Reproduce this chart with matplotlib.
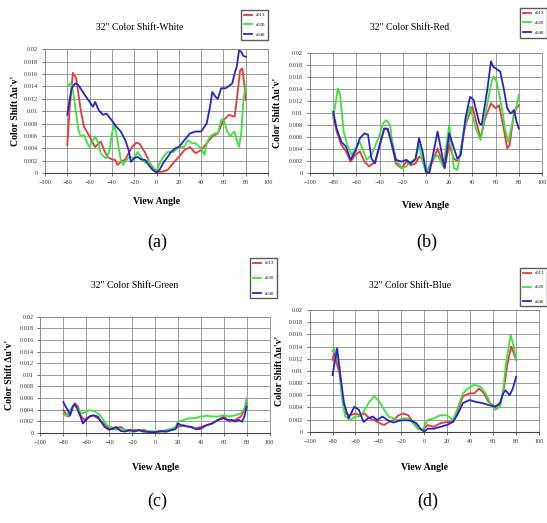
import numpy as np
from matplotlib import pyplot as plt

plt.rcParams['font.family'] = ['Liberation Serif', 'DejaVu Serif']

# ---- data: view angle (deg) and colour shift in units of 1e-3 du'v' ----
# (a) white
white_a013_deg = [-80, -78, -75, -72, -68, -65, -60, -57, -55, -50, -47, -44, -40, -37, -35, -32, -28, -25, -22,
                  -18, -15, -10, -5, 0, 5, 10, 15, 20, 25, 30, 35, 40, 45, 50, 55, 60, 65, 70, 72, 75, 77, 79, 80]
white_a013 = [4.5, 10.2, 16.2, 15.3, 10.2, 7.5, 5.9, 4.8, 4.2, 5.1, 3.7, 2.6, 2.2, 2.1, 1.3, 1.8, 2.2, 3.2, 4.2,
              4.9, 4.7, 3.2, 1.3, 0.2, 0.2, 0.5, 1.6, 2.6, 3.7, 4.2, 3.2, 3.7, 4.8, 5.9, 6.4, 8.5, 9.4, 9.1, 11.8,
              16.6, 16.9, 13.9, 11.8]
white_a020_deg = [-80, -77, -75, -72, -70, -68, -65, -62, -60, -57, -55, -52, -50, -47, -45, -42, -40, -38, -36,
                  -34, -32, -30, -27, -24, -20, -17, -14, -10, -7, -4, 0, 3, 6, 10, 15, 20, 25, 28, 32, 35, 40,
                  43, 45, 48, 52, 55, 58, 60, 63, 66, 68, 70, 72, 74, 76, 78, 80]
white_a020 = [14.0, 14.5, 13.4, 9.6, 6.9, 5.9, 6.1, 4.8, 4.2, 5.3, 5.9, 4.8, 3.2, 2.6, 2.4, 3.7, 6.4, 7.7, 6.4,
              4.2, 2.1, 1.3, 2.1, 2.6, 2.4, 3.4, 2.6, 1.6, 2.1, 0.8, 0.4, 1.6, 2.6, 3.4, 3.4, 4.2, 4.2, 5.3, 4.8,
              4.8, 4.0, 2.9, 4.8, 5.9, 6.4, 6.4, 8.5, 8.8, 6.9, 5.9, 6.4, 6.7, 5.3, 4.2, 6.4, 11.8, 14.2]
white_a040_deg = [-80, -78, -76, -73, -70, -65, -60, -57, -55, -52, -48, -45, -40, -36, -32, -28, -25, -23, -20,
                  -17, -14, -10, -7, -4, 0, 3, 6, 10, 13, 17, 20, 25, 30, 35, 40, 45, 48, 50, 53, 55, 58, 62, 66,
                  68, 70, 72, 74, 76, 78, 80]
white_a040 = [9.4, 11.8, 13.7, 14.5, 14.2, 12.8, 11.5, 10.7, 11.5, 10.2, 9.4, 9.6, 8.5, 7.5, 6.7, 5.3, 3.7, 1.8,
              2.4, 2.6, 2.2, 2.1, 1.3, 0.6, 0.05, 0.6, 1.6, 2.6, 3.4, 4.0, 4.2, 5.3, 6.4, 6.7, 6.7, 8.0, 10.7,
              13.1, 12.3, 12.0, 13.7, 13.7, 14.2, 14.5, 16.1, 17.2, 19.8, 19.6, 18.9, 18.8]

# (b) red
red_a013_deg = [-80, -77, -73, -69, -65, -61, -57, -53, -49, -44, -40, -36, -33, -30, -26, -21, -17, -13, -9, -6,
                -3, 0, 3, 7, 10, 16, 20, 24, 28, 34, 40, 44, 47, 51, 56, 60, 63, 67, 70, 72, 76, 80]
red_a013 = [9.7, 6.9, 4.7, 3.6, 1.9, 3.0, 3.6, 1.9, 1.1, 1.9, 4.4, 7.4, 7.2, 5.2, 1.6, 0.8, 1.9, 1.3, 1.6, 2.7,
            2.4, 0.2, 0.8, 2.5, 4.1, 0.8, 4.7, 2.4, 1.9, 8.0, 11.1, 8.0, 5.8, 9.1, 11.6, 10.8, 11.3, 7.4, 4.1,
            4.6, 10.2, 11.3]
red_a020_deg = [-80, -76, -74, -71, -68, -64, -61, -57, -54, -51, -47, -41, -37, -34, -31, -29, -26, -21, -17,
                -13, -9, -6, -3, 0, 6, 10, 15, 20, 24, 27, 33, 38, 43, 47, 51, 56, 58, 61, 66, 68, 71, 74, 77, 80]
red_a020 = [9.1, 14.1, 13.0, 6.9, 4.7, 3.0, 4.1, 5.2, 3.6, 2.2, 3.0, 5.8, 8.3, 8.8, 8.0, 5.2, 2.4, 0.8, 1.1, 1.9,
            2.2, 4.7, 1.9, 0.1, 2.4, 3.0, 1.0, 8.0, 0.8, 0.5, 7.4, 11.1, 7.4, 5.5, 9.7, 14.7, 16.1, 15.2, 10.2,
            7.4, 5.2, 8.0, 10.2, 13.0]
red_a040_deg = [-80, -77, -73, -69, -65, -61, -57, -53, -50, -47, -44, -40, -36, -33, -30, -26, -21, -17, -13,
                -9, -6, -3, 0, 3, 6, 10, 16, 20, 27, 30, 34, 38, 41, 46, 48, 53, 56, 58, 64, 67, 70, 73, 76, 78, 80]
red_a040 = [10.2, 7.4, 5.2, 4.4, 2.2, 3.6, 5.8, 6.6, 6.4, 2.4, 1.6, 4.7, 7.4, 7.4, 5.2, 2.2, 1.9, 2.2, 1.6, 2.4,
            5.8, 3.6, 0.2, 0.1, 3.0, 6.9, 0.8, 6.6, 2.4, 3.0, 9.1, 12.7, 12.2, 8.3, 8.0, 14.1, 18.6, 17.7, 16.9,
            14.1, 10.8, 9.9, 10.5, 8.6, 7.4]

# (c) green
green_a013_deg = [-80, -77, -75, -73, -70, -67, -65, -62, -60, -57, -54, -50, -45, -42, -38, -35, -30, -26, -22,
                  -18, -14, -10, -5, 0, 5, 10, 15, 20, 25, 30, 35, 40, 45, 50, 55, 60, 65, 70, 75, 78, 80]
green_a013 = [3.9, 3.0, 2.8, 3.6, 5.1, 4.5, 3.0, 2.2, 2.5, 2.8, 3.0, 2.5, 1.6, 1.0, 0.6, 0.7, 1.0, 0.5, 0.2, 0.5,
              0.3, 0.5, 0.2, 0.0, 0.2, 0.2, 0.5, 1.0, 1.3, 1.0, 0.7, 1.0, 1.3, 1.6, 2.2, 2.8, 1.9, 2.2, 2.8, 3.9,
              5.1]
green_a020_deg = [-80, -77, -74, -70, -67, -64, -60, -56, -52, -48, -45, -42, -38, -34, -30, -25, -20, -15, -10,
                  -5, 0, 5, 10, 15, 18, 20, 25, 30, 35, 40, 45, 50, 55, 60, 65, 70, 75, 78, 80]
green_a020 = [3.3, 2.8, 3.9, 4.8, 4.2, 3.3, 3.6, 3.9, 3.6, 3.0, 2.2, 1.3, 1.0, 0.5, 0.7, 0.5, 0.2, 0.3, 0.2, 0.3,
              0.2, 0.2, 0.5, 0.7, 1.0, 1.9, 2.2, 2.5, 2.5, 2.8, 2.9, 2.8, 2.8, 3.0, 2.8, 3.0, 3.3, 4.2, 5.9]
green_a040_deg = [-80, -78, -76, -74, -72, -70, -68, -65, -63, -60, -57, -54, -50, -47, -44, -40, -37, -34, -30,
                  -26, -22, -18, -14, -10, -5, 0, 5, 10, 15, 18, 20, 23, 27, 32, 36, 40, 45, 50, 55, 60, 63, 67,
                  70, 73, 76, 78, 80]
green_a040 = [5.3, 4.5, 3.9, 3.0, 4.5, 4.9, 4.2, 2.8, 1.6, 2.2, 2.8, 3.0, 2.8, 1.9, 1.0, 0.5, 0.7, 1.0, 0.3, 0.2,
              0.5, 0.2, 0.5, 0.2, 0.1, 0.1, 0.3, 0.2, 0.5, 0.6, 1.6, 1.3, 1.1, 1.0, 0.6, 0.7, 1.3, 1.6, 2.2, 2.5,
              2.2, 2.2, 1.9, 2.2, 1.9, 2.8, 4.5]

# (d) blue
blue_a013_deg = [-80, -78.6, -74, -71.6, -69, -64.6, -60, -56, -52, -48, -43.5, -39, -35, -31, -27, -22.5, -18,
                 -14, -10, -5.6, -1.4, 3, 8.4, 14, 19.7, 25, 29.5, 33.7, 39.3, 43.5, 47.8, 52, 56, 61.8, 66, 69.7,
                 72.5, 75.8, 78, 80]
blue_a013 = [11.8, 12.9, 9.6, 5.8, 3.0, 2.7, 3.0, 2.7, 3.0, 2.2, 1.9, 1.4, 1.1, 1.6, 1.9, 2.7, 3.0, 2.7, 1.6, 0.5,
             0.3, 1.1, 0.8, 1.4, 1.6, 1.6, 3.6, 5.8, 6.3, 6.3, 7.1, 6.3, 4.9, 4.1, 4.4, 7.4, 11.2, 14.0, 12.9,
             11.8]
blue_a020_deg = [-80, -78.6, -74, -71.6, -69, -64.6, -60, -56, -52, -48, -43.5, -39, -35, -31, -27, -22.5, -18,
                 -14, -10, -5.6, -1.4, 2.8, 8.4, 14, 19.7, 25, 29.5, 33.7, 38, 43.5, 49, 53.4, 57.6, 61.8, 66,
                 68.8, 71.6, 75.3, 78, 80]
blue_a020 = [13.2, 13.7, 10.7, 5.2, 2.5, 1.9, 2.5, 2.5, 3.6, 4.9, 5.8, 4.9, 3.6, 2.5, 2.2, 1.9, 2.2, 2.2, 1.4, 0.5,
             0.3, 1.9, 2.2, 2.7, 2.7, 1.9, 4.1, 6.3, 7.1, 7.7, 7.4, 6.3, 4.7, 3.6, 4.1, 6.8, 11.8, 15.9, 14.0, 11.8]
blue_a040_deg = [-80, -76, -73, -70, -66, -61, -57, -53, -49, -45, -41, -36.5, -32, -27, -22, -17, -11, -7, -3, 0,
                 3, 8.4, 14, 19.7, 25, 29.5, 33.7, 39.3, 45, 50.6, 56, 61.8, 66, 68.8, 70.8, 74.4, 77.2, 80]
blue_a040 = [9.3, 13.7, 9.0, 4.7, 2.2, 4.1, 3.6, 1.6, 2.2, 2.5, 1.9, 2.5, 1.9, 1.5, 1.8, 1.9, 1.8, 1.4, 0.4, 0.0,
             0.5, 0.5, 0.8, 1.1, 1.6, 3.0, 4.7, 5.2, 4.9, 4.7, 4.4, 4.1, 4.7, 6.3, 6.8, 6.0, 7.1, 9.0]

series_names = ['a013', 'a020', 'a040']
series_colors = ['#e8383a', '#3ee23e', '#2626c8']
x_ticks = list(range(-100, 101, 20))
y_ticks = [0, 0.002, 0.004, 0.006, 0.008, 0.01, 0.012, 0.014, 0.016, 0.018, 0.02]
y_tick_labels = ['0', '0.002', '0.004', '0.006', '0.008', '0.01', '0.012', '0.014', '0.016', '0.018', '0.02']

W, H = 547, 523


def px_rect(left, right, top, bottom):
    return [left / W, 1 - bottom / H, (right - left) / W, (bottom - top) / H]


def draw_panel(rect, title, curves, title_xy, ylabel_x, xlabel_y, legend_xy, legend_gap, caption, caption_xy):
    ax = fig.add_axes(px_rect(*rect))
    for (deg, vals), name, color in zip(curves, series_names, series_colors):
        ax.plot(deg, np.array(vals) * 1e-3, color=color, linewidth=1.3, label=name)
    ax.set_xlim(-100, 100)
    ax.set_ylim(0, 0.02)
    ax.set_xticks(x_ticks)
    ax.set_yticks(y_ticks)
    ax.set_yticklabels(y_tick_labels)
    ax.tick_params(labelsize=4.5, length=2, width=0.5, pad=3, colors='#333333')
    ax.grid(True, color='#8c8c8c', linewidth=0.6)
    for side in ['top', 'right', 'left']:
        ax.spines[side].set_color('#8c8c8c')
        ax.spines[side].set_linewidth(0.6)
    ax.spines['bottom'].set_color('#444444')
    ax.spines['bottom'].set_linewidth(0.8)

    fig.text(title_xy[0] / W, 1 - title_xy[1] / H, title, ha='center', va='center', fontsize=7)
    fig.text(ylabel_x / W, 1 - (rect[2] + rect[3]) / 2 / H, "Color Shift \u0394u'v'", rotation=90,
             ha='center', va='center', fontsize=7, fontweight='bold')
    fig.text((rect[0] + rect[1]) / 2 / W, 1 - xlabel_y / H, 'View Angle', ha='center', va='center',
             fontsize=7, fontweight='bold')
    ax.legend(loc='upper right', bbox_to_anchor=(legend_xy[0] / W, 1 - legend_xy[1] / H),
              bbox_transform=fig.transFigure, fontsize=3.5, frameon=True, fancybox=False,
              edgecolor='#333333', handlelength=1.6, borderpad=0.6, labelspacing=legend_gap, borderaxespad=0)
    fig.text(caption_xy[0] / W, 1 - caption_xy[1] / H, caption, ha='center', va='center', fontsize=13)
    return ax


fig = plt.figure(figsize=(W / 100, H / 100), dpi=100)

draw_panel((45, 268, 49.3, 173), '32" Color Shift-White',
           [(white_a013_deg, white_a013), (white_a020_deg, white_a020), (white_a040_deg, white_a040)],
           (140, 28), 15, 202, (268, 10), 1.1, '(a)', (157, 242))
draw_panel((310, 542, 53, 173), '32" Color Shift-Red',
           [(red_a013_deg, red_a013), (red_a020_deg, red_a020), (red_a040_deg, red_a040)],
           (410, 27), 278, 206, (547, 8), 1.1, '(b)', (427, 242))
draw_panel((40.4, 269.6, 316.7, 432.7), '32" Color Shift-Green',
           [(green_a013_deg, green_a013), (green_a020_deg, green_a020), (green_a040_deg, green_a040)],
           (135, 286), 10, 468, (277, 258), 2.2, '(c)', (157, 501))
draw_panel((309.6, 539, 310, 431.7), '32" Color Shift-Blue',
           [(blue_a013_deg, blue_a013), (blue_a020_deg, blue_a020), (blue_a040_deg, blue_a040)],
           (410, 285), 280, 468, (547, 268), 2.0, '(d)', (428, 501))

fig.savefig('out.png', dpi=100, facecolor='white')
